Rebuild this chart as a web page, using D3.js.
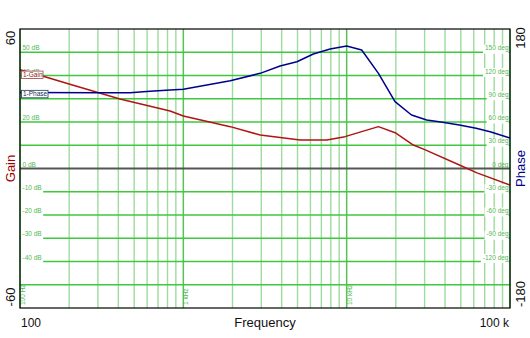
<!DOCTYPE html>
<html><head><meta charset="utf-8">
<script src="https://cdn.jsdelivr.net/npm/d3@7"></script>
<style>body{margin:0;background:#fff}svg{display:block}</style>
</head><body>
<svg id="c" width="530" height="338"></svg>
<script>
// Loop gain / phase measurement (Bode plot)
const gainFreq = [100, 142, 202, 409, 830, 1000, 1938, 2954, 5188, 7550, 9767, 15640, 19800, 25600, 30300, 49000, 62800, 100000];
const gainDb   = [42.5, 39.5, 36.2, 29.9, 24.7, 22.6, 18.0, 14.4, 12.3, 12.3, 13.7, 18.0, 15.4, 10.1, 8.0, 1.5, -1.9, -7.1];

const phaseFreq = [100, 309, 472, 625, 830, 1000, 1938, 2954, 3910, 4960, 6250, 7920, 10000, 12360, 15650, 19770, 24950, 30900, 38600, 49000, 62000, 75600, 100000];
const phaseDeg  = [98.1, 97.8, 97.8, 99.6, 101.3, 102.2, 113.3, 122.8, 132.3, 137.8, 147.7, 154.2, 158.1, 152.9, 122.8, 86.2, 69.0, 62.6, 59.6, 56.1, 51.9, 47.5, 39.4];

const gainGrid  = [50, 40, 30, 20, 10, 0, -10, -20, -30, -40, -50];
const gainLabels = [50, 40, 20, 0, -10, -20, -30, -40];
const phaseGrid = [150, 120, 90, 60, 30, 0, -30, -60, -90, -120];
const decadeLabels = [[100, "100 Hz"], [1000, "1 kHz"], [10000, "10 kHz"]];
const traceNames = ["1-Gain", "1-Phase"];

const svg = d3.select("#c");
const L = 20, R = 510, T = 29, B = 308;
const font = "'Liberation Sans', Arial, sans-serif";

const x  = d3.scaleLog().domain([100, 100000]).range([L, R]);
const yG = d3.scaleLinear().domain([-60, 60]).range([B, T]);
const yP = d3.scaleLinear().domain([-180, 180]).range([B, T]);

const grid = svg.append("g");

// vertical grid: 1..9 per decade, decades brighter
x.ticks().forEach(f => {
  const dec = Math.abs(Math.log10(f) - Math.round(Math.log10(f))) < 1e-9;
  grid.append("line")
    .attr("x1", x(f)).attr("x2", x(f)).attr("y1", T).attr("y2", B)
    .attr("stroke", dec ? "#55c455" : "#9edb9e")
    .attr("stroke-width", dec ? 1.5 : 1.4);
});

// horizontal grid
gainGrid.filter(v => v !== 0).forEach(v => {
  grid.append("line")
    .attr("x1", L).attr("x2", R).attr("y1", yG(v)).attr("y2", yG(v))
    .attr("stroke", "#3fc83f").attr("stroke-width", 1.6);
});

// grid labels, dB on the left
const lab = svg.append("g").attr("font-family", font).attr("font-size", 6.5).attr("fill", "#52b852");
gainLabels.forEach(v => {
  const t = lab.append("text").attr("x", 22.5).attr("y", yG(v) - 1.8).text(v + " dB");
  if (v < 0) {
    const w = t.node().getComputedTextLength();
    lab.insert("rect", "text").attr("x", 21).attr("y", yG(v) - 7.5)
      .attr("width", w + 3).attr("height", 9).attr("fill", "#fff");
  }
});
// grid labels, degrees on the right
phaseGrid.forEach(v => {
  const t = lab.append("text").attr("x", 508.5).attr("y", yP(v) - 1.8)
    .attr("text-anchor", "end").text(v + " deg");
  if (v !== 0) {
    const w = t.node().getComputedTextLength();
    lab.insert("rect", "text").attr("x", 508.5 - w - 2).attr("y", yP(v) - 7.5)
      .attr("width", w + 2).attr("height", 9).attr("fill", "#fff");
  }
});

// zero line
svg.append("line").attr("x1", L).attr("x2", R).attr("y1", yG(0)).attr("y2", yG(0))
  .attr("stroke", "#555").attr("stroke-width", 2);

// decade markers along the bottom
decadeLabels.forEach(([f, s]) => {
  svg.append("text")
    .attr("transform", `translate(${x(f) + 5},305) rotate(-90)`)
    .attr("font-family", font).attr("font-size", 6.5).attr("fill", "#52b852")
    .text(s);
});

// traces
const gainLine = d3.line().x((d, i) => x(gainFreq[i])).y(d => yG(d));
const phaseLine = d3.line().x((d, i) => x(phaseFreq[i])).y(d => yP(d));
svg.append("path").attr("d", gainLine(gainDb)).attr("fill", "none")
  .attr("stroke", "#b01414").attr("stroke-width", 1.5).attr("stroke-linejoin", "round");
svg.append("path").attr("d", phaseLine(phaseDeg)).attr("fill", "none")
  .attr("stroke", "#00008f").attr("stroke-width", 1.5).attr("stroke-linejoin", "round");

// plot frame
svg.append("rect").attr("x", L).attr("y", T).attr("width", R - L).attr("height", B - T)
  .attr("fill", "none").attr("stroke", "#000").attr("stroke-width", 1.2);

// trace tags at the left edge
function tag(name, yv, w, stroke, color) {
  const g = svg.append("g");
  g.append("rect").attr("x", 21.5).attr("y", yv - 3.6).attr("width", w).attr("height", 7.4)
    .attr("fill", "#fff").attr("stroke", stroke).attr("stroke-width", 0.9);
  g.append("text").attr("x", 23).attr("y", yv + 2.3).attr("font-family", font)
    .attr("font-size", 6.5).attr("fill", color).text(name);
}
tag(traceNames[0], yG(gainDb[0]) + 5, 21.5, "#a45a5a", "#8a2020");
tag(traceNames[1], yP(phaseDeg[0]) + 1.5, 26.5, "#30506a", "#1a2a5a");

// axis titles and end values
const ax = svg.append("g").attr("font-family", font).attr("font-size", 13).attr("fill", "#111");
function vtext(xp, yp, s, color) {
  ax.append("text").attr("transform", `translate(${xp},${yp}) rotate(-90)`)
    .attr("text-anchor", "middle").attr("fill", color || "#111").text(s);
}
const [g0, g1] = yG.domain();
const [p0, p1] = yP.domain();
vtext(15, 38, String(g1));
vtext(15, 297, String(g0));
vtext(15, 168.5, "Gain", "#a00000");
vtext(525, 38, String(p1));
vtext(525, 294, String(p0));
vtext(525, 168.5, "Phase", "#00008b");

ax.append("text").attr("x", 21).attr("y", 327).attr("font-size", 12).text(String(x.domain()[0]));
ax.append("text").attr("x", 509).attr("y", 327).attr("font-size", 12).attr("text-anchor", "end")
  .text((x.domain()[1] / 1000) + " k");
ax.append("text").attr("x", 265).attr("y", 327).attr("text-anchor", "middle").text("Frequency");
</script>
</body></html>
